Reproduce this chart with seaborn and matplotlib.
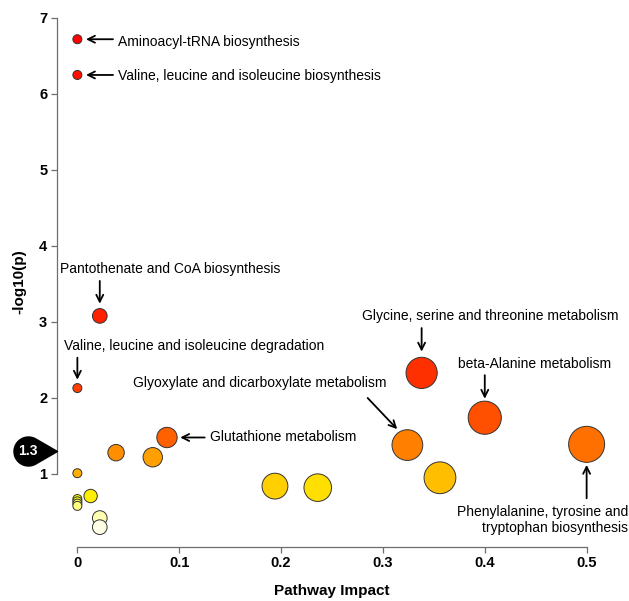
import colorsys
import numpy as np
import pandas as pd
import matplotlib
matplotlib.use('Agg')
import matplotlib.pyplot as plt
import seaborn as sns
from matplotlib.path import Path
from matplotlib.transforms import blended_transform_factory, offset_copy

# pathway table, sorted by p value (as MetaboAnalyst does)
impact = [0.0, 0.0, 0.022, 0.338, 0.0, 0.40, 0.088, 0.50, 0.324, 0.038, 0.074,
          0.0, 0.356, 0.194, 0.236, 0.013, 0.0, 0.0, 0.0, 0.0, 0.022, 0.022]
neglogp = [6.72, 6.25, 3.08, 2.33, 2.13, 1.74, 1.48, 1.39, 1.38, 1.28, 1.22,
           1.01, 0.95, 0.84, 0.82, 0.71, 0.67, 0.64, 0.61, 0.58, 0.42, 0.30]

x_ticks = [0, 0.1, 0.2, 0.3, 0.4, 0.5]
x_ticklabels = ['0', '0.1', '0.2', '0.3', '0.4', '0.5']
y_ticks = [1, 2, 3, 4, 5, 6, 7]
threshold = 1.3

# text, text position, alignment, arrow tail, arrow head
labels = [
    ('Aminoacyl-tRNA biosynthesis', (0.040, 6.68), 'left', (0.035, 6.72), (0.0085, 6.72)),
    ('Valine, leucine and isoleucine biosynthesis', (0.040, 6.24), 'left', (0.035, 6.25), (0.0085, 6.25)),
    ('Pantothenate and CoA biosynthesis', (0.091, 3.70), 'center', (0.022, 3.54), (0.022, 3.24)),
    ('Valine, leucine and isoleucine degradation', (-0.013, 2.68), 'left', (0.0, 2.53), (0.0, 2.24)),
    ('Glutathione metabolism', (0.130, 1.48), 'left', (0.125, 1.48), (0.101, 1.48)),
    ('Glyoxylate and dicarboxylate metabolism', (0.179, 2.20), 'center', (0.285, 2.0), (0.314, 1.59)),
    ('Glycine, serine and threonine metabolism', (0.405, 3.08), 'center', (0.338, 2.92), (0.338, 2.61)),
    ('beta-Alanine metabolism', (0.449, 2.45), 'center', (0.40, 2.30), (0.40, 1.99)),
    ('Phenylalanine, tyrosine and\ntryptophan biosynthesis', (0.5404, 0.395), 'right', (0.5, 0.68), (0.5, 1.12)),
]


def heat_colors(n):
    # same as R's heat.colors()
    j = n // 4
    i = n - j
    cols = [colorsys.hsv_to_rgb(h, 1, 1) for h in np.linspace(0, 1 / 6, i)]
    cols += [colorsys.hsv_to_rgb(1 / 6, s, 1) for s in np.linspace(1 - 1 / (2 * j), 1 / (2 * j), j)]
    return cols


sns.set_style('ticks')
plt.rcParams['font.family'] = ['Liberation Sans', 'DejaVu Sans']
plt.rcParams['text.color'] = 'black'
plt.rcParams['axes.labelcolor'] = 'black'
plt.rcParams['xtick.labelcolor'] = 'black'
plt.rcParams['ytick.labelcolor'] = 'black'

W, H, DPI = 629, 601, 100
fig = plt.figure(figsize=(W / DPI, H / DPI), dpi=DPI)
xlim = (-0.02, 0.52)
ylim = (0.043, 7.01)
ax = fig.add_axes([57 / W, (H - 546.7) / H, 550 / W, (546.7 - 17.2) / H])

# circle radius in x units, like MetaboAnalyst
sqx = np.sqrt(impact)
maxR = (sqx.max() - sqx.min()) / 40
minR = (sqx.max() - sqx.min()) / 160
radius = minR + (maxR - minR) * (sqx - sqx.min()) / (sqx.max() - sqx.min())
px_per_x = 550 / (xlim[1] - xlim[0])
size_pts = (2 * radius * px_per_x * 72 / DPI) ** 2

df = pd.DataFrame({'impact': impact, 'logp': neglogp,
                   'rank': [str(k) for k in range(len(impact))]})
sns.scatterplot(data=df, x='impact', y='logp', hue='rank',
                palette=heat_colors(len(df)), s=size_pts,
                edgecolor='#333333', linewidth=0.7, legend=False,
                clip_on=False, zorder=3, ax=ax)

ax.set_xlim(*xlim)
ax.set_ylim(*ylim)
ax.set_xticks(x_ticks)
ax.set_xticklabels(x_ticklabels)
ax.set_yticks(y_ticks)
for lab in ax.get_xticklabels() + ax.get_yticklabels():
    lab.set_fontweight('bold')
    lab.set_fontsize(10.5)
    lab.set_color('black')
ax.tick_params(length=4, width=0.9, color='#6e6e6e', pad=3)
for side in ['top', 'right']:
    ax.spines[side].set_visible(False)
ax.spines['left'].set_bounds(y_ticks[0], y_ticks[-1])
ax.spines['bottom'].set_bounds(x_ticks[0], x_ticks[-1])
for side in ['left', 'bottom']:
    ax.spines[side].set_color('#6e6e6e')
    ax.spines[side].set_linewidth(0.9)

ax.set_xlabel('Pathway Impact', fontsize=11, fontweight='bold', labelpad=10)
ax.set_ylabel('-log10(p)', fontsize=11, fontweight='bold', labelpad=9)

for text, txy, ha, tail, head in labels:
    ax.annotate('', xy=head, xytext=tail,
                arrowprops=dict(arrowstyle='->,head_length=0.5,head_width=0.25',
                                lw=1.3, color='black', shrinkA=0, shrinkB=0))
    ax.text(txy[0], txy[1], text, ha=ha, va='center', fontsize=10,
            multialignment=ha if ha != 'center' else 'center', clip_on=False)

# 1.3 threshold pin on the y axis
d, r = 29.0, 14.5
th = np.arccos(r / d)
angs = np.linspace(th, 2 * np.pi - th, 60)
verts = [(-d + r * np.cos(a), r * np.sin(a)) for a in angs] + [(0, 0), (-d + r * np.cos(th), r * np.sin(th))]
pin = Path(verts, closed=True)
trans = blended_transform_factory(ax.transAxes, ax.transData)
ax.plot([0], [threshold], marker=pin, markersize=2 * (d + r) * 72 / DPI,
        color='black', transform=trans, clip_on=False, zorder=5)
ax.text(0, threshold, '1.3', color='white', fontsize=10, fontweight='bold',
        ha='center', va='center', zorder=6, clip_on=False,
        transform=offset_copy(trans, fig=fig, x=-d, y=0, units='dots'))

fig.savefig('out.png', dpi=DPI)
